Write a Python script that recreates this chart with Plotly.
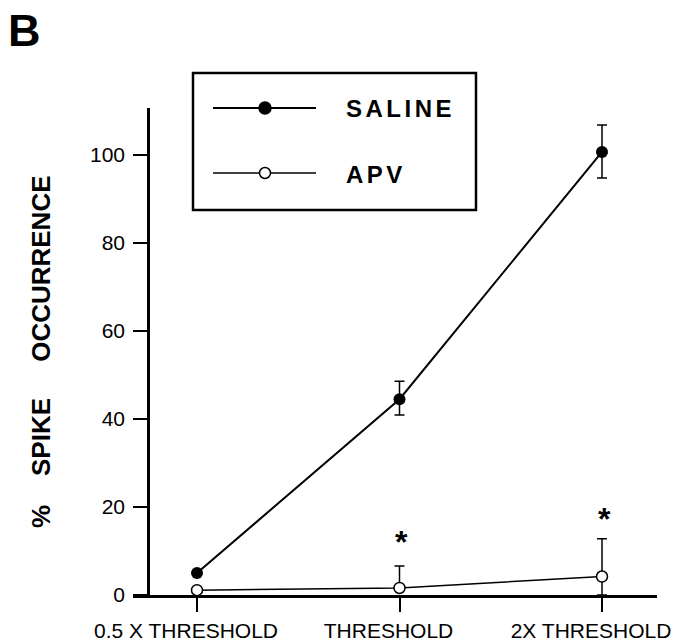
import plotly.graph_objects as go

# ---- data ----
categories = ["0.5 X THRESHOLD", "THRESHOLD", "2X THRESHOLD"]
saline = [5.0, 44.5, 100.7]
saline_err_plus = [0.0, 4.1, 6.1]
saline_err_minus = [0.0, 3.6, 5.9]
apv = [1.1, 1.6, 4.2]
apv_err_plus = [0.0, 5.0, 8.6]
apv_err_minus = [0.0, 0.0, 4.2]
sig_categories = ["THRESHOLD", "2X THRESHOLD"]
sig_y = [13.2, 18.4]
y_ticks = [0, 20, 40, 60, 80, 100]

W, H = 678, 641
L, R, T, B = 133, 657, 108, 595
FONT = "Liberation Sans, Arial, Helvetica, sans-serif"


def px(x):
    return (x - L) / (R - L)


def py(y):
    return (B - y) / (B - T)


fig = go.Figure()

fig.add_trace(go.Scatter(
    x=categories, y=saline, mode="lines+markers", name="SALINE",
    line=dict(color="black", width=2),
    marker=dict(color="black", size=12, line=dict(width=0)),
    error_y=dict(type="data", array=saline_err_plus, arrayminus=saline_err_minus,
                 color="black", thickness=1.5, width=5),
    cliponaxis=False, showlegend=False,
))
fig.add_trace(go.Scatter(
    x=categories, y=apv, mode="lines+markers", name="APV",
    line=dict(color="black", width=1.5),
    marker=dict(color="white", size=11, line=dict(color="black", width=1.5)),
    error_y=dict(type="data", array=apv_err_plus, arrayminus=apv_err_minus,
                 color="black", thickness=1.5, width=5),
    cliponaxis=False, showlegend=False,
))

annotations = []
for c, v in zip(sig_categories, sig_y):
    annotations.append(dict(x=c, y=v, xref="x", yref="y", text="<b>*</b>",
                            showarrow=False, font=dict(family=FONT, size=32, color="black"),
                            xanchor="center", yanchor="middle", yshift=-5, xshift=2))

# panel letter
annotations.append(dict(x=px(6), y=py(3), xref="paper", yref="paper", text="<b>B</b>",
                        showarrow=False, font=dict(family=FONT, size=45, color="black"),
                        xanchor="left", yanchor="top"))
# y-axis title
nb = "\u00a0"
annotations.append(dict(x=px(41), y=py(352), xref="paper", yref="paper",
                        text="<b>%" + nb * 4 + "SPIKE" + nb * 5 + "OCCURRENCE</b>",
                        textangle=-90, showarrow=False,
                        font=dict(family=FONT, size=26, color="black"),
                        xanchor="center", yanchor="middle"))

# legend box
shapes = [dict(type="rect", xref="paper", yref="paper",
               x0=px(193), x1=px(476), y0=py(210), y1=py(73),
               line=dict(color="black", width=2.5), fillcolor="white", layer="below")]
for ypix, lw, fill, size, label in [(108, 2, "black", 12, "SALINE"), (173, 1.5, "white", 11, "APV")]:
    shapes.append(dict(type="line", xref="paper", yref="paper",
                       x0=px(213), x1=px(316), y0=py(ypix), y1=py(ypix),
                       line=dict(color="black", width=lw)))
    r = size / 2
    shapes.append(dict(type="circle", xref="paper", yref="paper",
                       xsizemode="pixel", ysizemode="pixel",
                       xanchor=px(265), yanchor=py(ypix),
                       x0=-r, x1=r, y0=-r, y1=r,
                       fillcolor=fill, line=dict(color="black", width=1.5)))
    annotations.append(dict(x=px(344), y=py(ypix + 1), xref="paper", yref="paper",
                            text='<b><span style="letter-spacing:3.5px">' + label + '</span></b>',
                            showarrow=False, font=dict(family=FONT, size=24, color="black"),
                            xanchor="left", yanchor="middle"))

fig.update_layout(
    width=W, height=H, autosize=False,
    margin=dict(l=L, r=W - R, t=T, b=H - B, pad=0),
    plot_bgcolor="white", paper_bgcolor="white",
    shapes=shapes, annotations=annotations,
    xaxis=dict(type="category", categoryarray=categories, range=[(L - 197) / 202.5, (R - 197) / 202.5],
               automargin=False,
               showline=True, linecolor="black", linewidth=3,
               ticks="outside", ticklen=14, tickwidth=2, tickcolor="black",
               ticklabelstandoff=1, ticklabelshift=-11,
               showgrid=False, zeroline=False,
               tickfont=dict(family=FONT, size=21, color="black")),
    yaxis=dict(range=[0, (B - T) / 4.4], anchor="free", position=px(148),
               automargin=False,
               showline=True, linecolor="black", linewidth=2.5,
               ticks="outside", ticklen=14, tickwidth=2, tickcolor="black",
               ticklabelstandoff=4,
               tickvals=y_ticks, showgrid=False, zeroline=False,
               tickfont=dict(family=FONT, size=21, color="black")),
)

fig.write_html("out.html")
